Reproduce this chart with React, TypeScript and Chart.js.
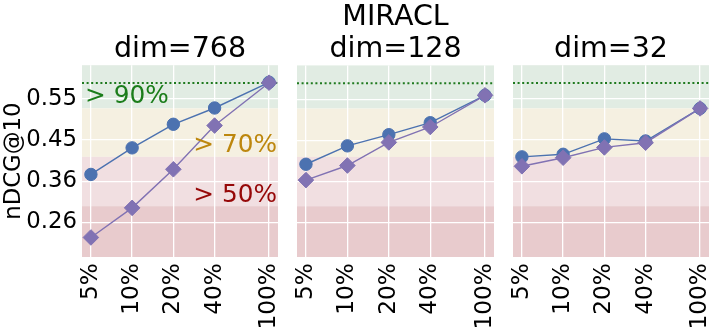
import React, { useEffect, useRef } from "react";
import { Chart, registerables } from "chart.js";

Chart.register(...registerables);

// ---------------- data ----------------
const suptitle = "MIRACL";
const panelTitles = ["dim=768", "dim=128", "dim=32"];
const fractions = [5, 10, 20, 40, 100];
const fractionLabels = ["5%", "10%", "20%", "40%", "100%"];

const blue768 = [0.374, 0.436, 0.491, 0.529, 0.589];
const purple768 = [0.227, 0.296, 0.386, 0.488, 0.588];
const blue128 = [0.398, 0.441, 0.467, 0.495, 0.559];
const purple128 = [0.361, 0.395, 0.449, 0.485, 0.559];
const blue32 = [0.415, 0.421, 0.457, 0.452, 0.528];
const purple32 = [0.393, 0.413, 0.437, 0.448, 0.528];

const yTickValues = [0.2625, 0.3583, 0.4542, 0.55];
const yTickLabels = ["0.26", "0.36", "0.45", "0.55"];
const yLabel = "nDCG@10";

const fullScore = 0.587; // dotted reference line (100%)
const bandEdges = [0.528, 0.415, 0.3]; // 90%, 70%, 50%
const bandLabels = ["> 90%", "> 70%", "> 50%"];

// ---------------- styles ----------------
const FONT = "'DejaVu Sans', sans-serif";
const BLUE = "#4C72B0";
const PURPLE = "#8172B3";
const BAND_COLORS = ["#e1ece3", "#f5f0e1", "#f1dfe1", "#e8cbcd"];
const LABEL_COLORS = ["#1b7d1b", "#bd870e", "#960808"];
const X_MIN = 4.3047;
const X_MAX = 116.15;
const Y_MIN = 0.1814;
const Y_MAX = 0.6288;

const bandPlugin = {
  id: "bands",
  beforeDraw(chart: any) {
    const { ctx, chartArea: a, scales } = chart;
    const y = scales.y;
    const edges = [y.max, ...bandEdges, y.min];
    ctx.save();
    for (let i = 0; i < BAND_COLORS.length; i++) {
      const t = y.getPixelForValue(edges[i]);
      const b = y.getPixelForValue(edges[i + 1]);
      ctx.fillStyle = BAND_COLORS[i];
      ctx.fillRect(a.left, t, a.right - a.left, b - t);
    }
    ctx.restore();
  },
  beforeDatasetsDraw(chart: any) {
    const { ctx, chartArea: a, scales } = chart;
    const py = scales.y.getPixelForValue(fullScore);
    ctx.save();
    ctx.strokeStyle = "#1f7a1f";
    ctx.lineWidth = 2;
    ctx.setLineDash([2, 2.6]);
    ctx.beginPath();
    ctx.moveTo(a.left, py);
    ctx.lineTo(a.right, py);
    ctx.stroke();
    ctx.restore();
  },
  afterDatasetsDraw(chart: any, _args: any, opts: any) {
    if (!opts || !opts.annotate) return;
    const { ctx, chartArea: a, scales } = chart;
    const y = scales.y;
    ctx.save();
    ctx.font = `24.8px ${FONT}`;
    ctx.textBaseline = "alphabetic";
    const pos = [
      { v: 0.5407, align: "left" },
      { v: 0.4265, align: "right" },
      { v: 0.3095, align: "right" },
    ];
    bandLabels.forEach((txt, i) => {
      ctx.fillStyle = LABEL_COLORS[i];
      ctx.textAlign = pos[i].align;
      const x = pos[i].align === "left" ? a.left + 3 : a.right - 1;
      ctx.fillText(txt, x, y.getPixelForValue(pos[i].v));
    });
    ctx.restore();
  },
};

type PanelDef = {
  title: string | string[];
  titlePadTop: number;
  blue: number[];
  purple: number[];
  left: number;
  width: number;
  yWidth: number;
  padRight: number;
  first: boolean;
};

const panels: PanelDef[] = [
  { title: panelTitles[0], titlePadTop: 32, blue: blue768, purple: purple768, left: 0, width: 288, yWidth: 82, padRight: 10, first: true },
  { title: [suptitle, panelTitles[1]], titlePadTop: 0, blue: blue128, purple: purple128, left: 288, width: 216, yWidth: 9, padRight: 10, first: false },
  { title: panelTitles[2], titlePadTop: 32, blue: blue32, purple: purple32, left: 504, width: 214, yWidth: 9, padRight: 9, first: false },
];

function PanelChart({ p }: { p: PanelDef }) {
  const ref = useRef<HTMLCanvasElement>(null);
  useEffect(() => {
    const chart = new Chart(ref.current as HTMLCanvasElement, {
      type: "line",
      data: {
        datasets: [
          {
            label: "purple",
            data: fractions.map((x, i) => ({ x, y: p.purple[i] })),
            borderColor: PURPLE,
            backgroundColor: PURPLE,
            pointBackgroundColor: PURPLE,
            pointBorderColor: PURPLE,
            pointStyle: "rectRot",
            pointRadius: 7.8,
            pointBorderWidth: 1,
            borderWidth: 1.4,
          },
          {
            label: "blue",
            data: fractions.map((x, i) => ({ x, y: p.blue[i] })),
            borderColor: BLUE,
            backgroundColor: BLUE,
            pointBackgroundColor: BLUE,
            pointBorderColor: BLUE,
            pointStyle: "circle",
            pointRadius: 6.2,
            pointBorderWidth: 1,
            borderWidth: 1.4,
          },
        ],
      },
      options: {
        responsive: false,
        animation: false,
        devicePixelRatio: 1,
        layout: { padding: { top: 1, right: p.padRight, bottom: 0, left: 0 } },
        plugins: {
          legend: { display: false },
          tooltip: { enabled: false },
          title: {
            display: true,
            text: p.title,
            fullSize: false,
            color: "#000",
            font: { family: FONT, size: 28.5, weight: "normal", lineHeight: 1.13 },
            padding: { top: p.titlePadTop, bottom: 0 },
          },
          bands: { annotate: p.first },
        } as any,
        scales: {
          x: {
            type: "logarithmic",
            min: X_MIN,
            max: X_MAX,
            afterBuildTicks: (s: any) => {
              s.ticks = fractions.map((v) => ({ value: v }));
            },
            afterFit: (s: any) => {
              s.height = 75;
              s.paddingLeft = 0;
              s.paddingRight = 0;
            },
            ticks: {
              autoSkip: false,
              minRotation: 90,
              maxRotation: 90,
              padding: 6,
              color: "#000",
              font: { family: FONT, size: 23.3 },
              callback: (_v: any, i: number) => fractionLabels[i],
            },
            grid: { color: "#ffffff", lineWidth: 1.3, drawTicks: false },
            border: { display: false },
          },
          y: {
            type: "linear",
            min: Y_MIN,
            max: Y_MAX,
            afterBuildTicks: (s: any) => {
              s.ticks = yTickValues.map((v) => ({ value: v }));
            },
            afterFit: (s: any) => {
              s.width = p.yWidth;
              s.paddingTop = 0;
              s.paddingBottom = 0;
            },
            ticks: {
              display: p.first,
              padding: 5,
              color: "#000",
              font: { family: FONT, size: 22.8 },
              callback: (_v: any, i: number) => yTickLabels[i],
            },
            title: {
              display: p.first,
              text: yLabel,
              color: "#000",
              font: { family: FONT, size: 22.8, lineHeight: 1.2 },
              padding: { top: 0.5, bottom: 0 },
            },
            grid: { color: "#ffffff", lineWidth: 1.3, drawTicks: false },
            border: { display: false },
          },
        },
      },
      plugins: [bandPlugin as any],
    });
    return () => chart.destroy();
  }, [p]);
  return (
    <canvas
      ref={ref}
      width={p.width}
      height={332}
      style={{ position: "absolute", left: p.left, top: 0, width: p.width, height: 332, display: "block" }}
    />
  );
}

export default function App() {
  return (
    <div style={{ position: "absolute", left: 0, top: 0, width: 718, height: 332, background: "#fff", overflow: "hidden" }}>
      {panels.map((p, i) => (
        <PanelChart key={i} p={p} />
      ))}
    </div>
  );
}
